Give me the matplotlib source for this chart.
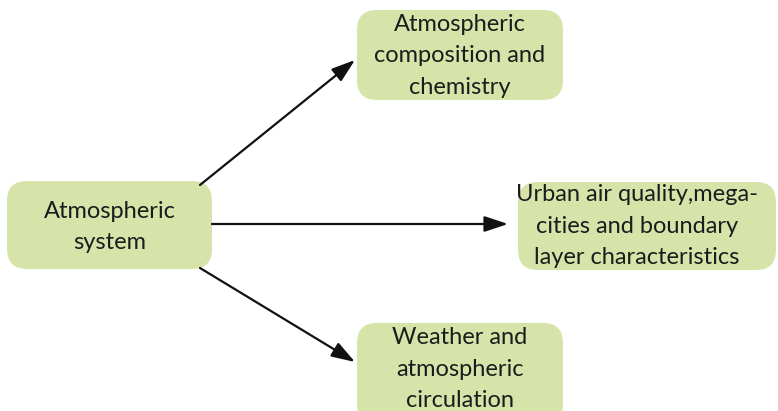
import matplotlib
matplotlib.use("Agg")
import matplotlib.pyplot as plt
from matplotlib.patches import FancyBboxPatch, FancyArrowPatch

source_label = "Atmospheric\nsystem"
target_labels = [
    "Atmospheric\ncomposition and\nchemistry",
    "Urban air quality,mega-\ncities and boundary\nlayer characteristics",
    "Weather and\natmospheric\ncirculation",
]

# layout (pixels)
W, H = 778, 411
fig = plt.figure(figsize=(W / 100, H / 100), dpi=100)
ax = fig.add_axes([0, 0, 1, 1])
ax.set_xlim(0, W)
ax.set_ylim(H, 0)
ax.axis("off")

box_color = "#d6e4aa"
text_color = "#1c1c1c"
font = ["Lato", "DejaVu Sans"]
fs = 17

def box(x0, y0, x1, y1):
    p = FancyBboxPatch((x0 + 14, y0 + 14), (x1 - x0) - 28, (y1 - y0) - 28,
                       boxstyle="round,pad=14,rounding_size=20",
                       fc=box_color, ec="none", zorder=1)
    ax.add_patch(p)

src = (7, 181, 212, 269)
targets = [(357, 10, 563, 100), (518, 182, 776, 270), (357, 323, 563, 425)]
text_pos = [(460, 56), (637, 226), (460, 369)]

box(*src)
ax.text(110, 227, source_label,
        ha="center", va="center", fontsize=fs, family=font, color=text_color,
        linespacing=1.6, zorder=3)

for t, lab, tp in zip(targets, target_labels, text_pos):
    box(*t)
    ax.text(tp[0], tp[1], lab, ha="center", va="center", fontsize=fs,
            family=font, color=text_color, linespacing=1.6, zorder=3)

arrows = [((200, 185), (355, 60)), ((212, 224), (508, 224)), ((200, 268), (355, 362))]
for a, b in arrows:
    ax.add_patch(FancyArrowPatch(a, b, arrowstyle="-|>,head_length=9,head_width=3",
                                 mutation_scale=1.6, lw=1.6, color="#111111",
                                 shrinkA=0, shrinkB=0, zorder=2))

fig.savefig("out.png", dpi=100)
